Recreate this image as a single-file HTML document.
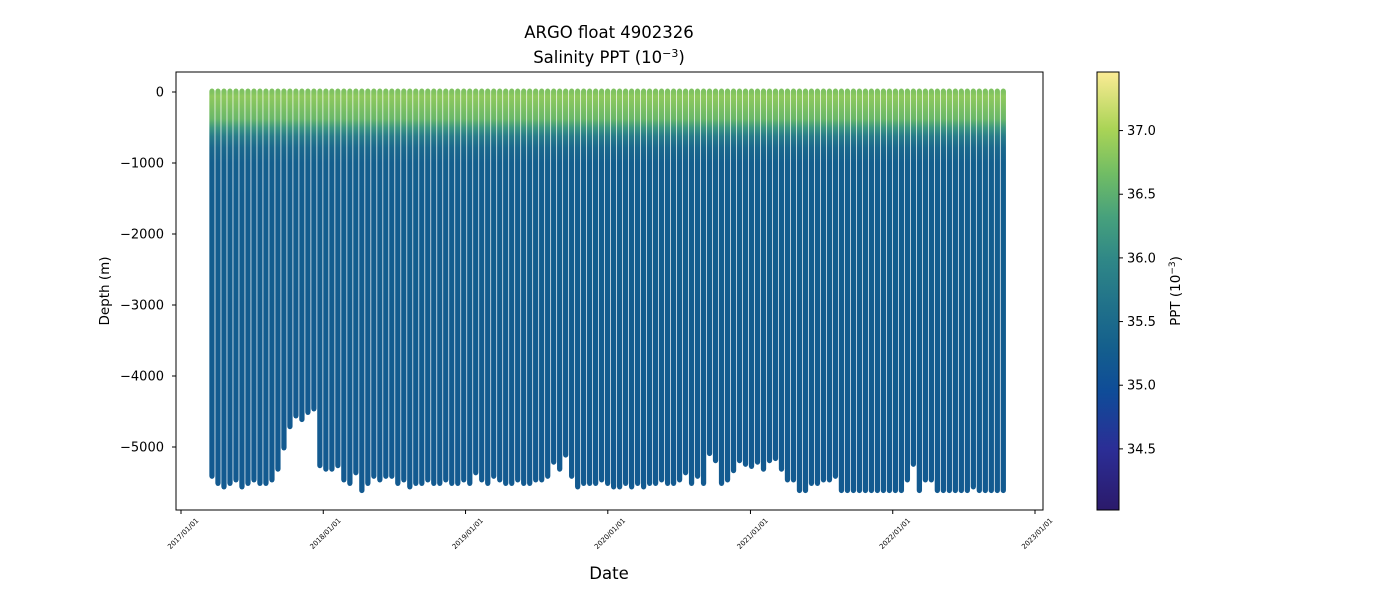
<!DOCTYPE html>
<html><head><meta charset="utf-8"><style>
body{margin:0;background:#fff;}
svg{display:block;font-family:"DejaVu Sans","Liberation Sans",sans-serif;}
</style></head><body>
<svg id="chart" width="1400" height="600">
<defs id="defs"></defs>
<text x="609" y="38" text-anchor="middle" font-size="16.5">ARGO float 4902326</text>
<text x="609" y="63" text-anchor="middle" font-size="16.5">Salinity PPT (10<tspan dy="-6" font-size="11">−3</tspan><tspan dy="6">)</tspan></text>
<g id="profiles"></g>
<rect x="176" y="72" width="867" height="438" fill="none" stroke="#000" stroke-width="1"/>
<g id="yaxis"></g>
<g id="xaxis"></g>
<text x="0" y="0" transform="translate(109,291) rotate(-90)" text-anchor="middle" font-size="13.5">Depth (m)</text>
<text x="609" y="579" text-anchor="middle" font-size="16.5">Date</text>
<rect x="1097" y="72" width="22" height="438" fill="url(#cbgrad)" stroke="#000" stroke-width="1"/>
<g id="cbaxis"></g>
<text x="0" y="0" transform="translate(1180,291) rotate(-90)" text-anchor="middle" font-size="13.5">PPT (10<tspan dy="-5" font-size="9">−3</tspan><tspan dy="5">)</tspan></text>
</svg>
<script>
const bottomDepths = [-5400,-5500,-5550,-5500,-5450,-5550,-5500,-5450,-5500,-5500,-5450,
-5300,-5000,-4700,-4550,-4600,-4500,-4450,-5250,-5300,-5300,-5250,-5450,-5500,-5350,-5600,-5500,-5400,-5450,-5400,-5400,-5500,
-5450,-5550,-5500,-5500,-5450,-5500,-5500,-5450,-5500,-5500,
-5450,-5500,-5350,-5450,-5500,-5400,-5450,-5500,-5500,-5450,
-5500,-5500,-5450,-5450,-5400,-5200,-5300,-5100,-5400,-5550,
-5500,-5500,-5500,-5450,-5500,-5550,-5550,-5500,-5550,-5500,
-5550,-5500,-5500,-5450,-5500,-5500,-5450,-5350,-5500,-5400,
-5500,-5080,-5180,-5500,-5450,-5320,-5180,-5230,-5260,-5200,
-5300,-5180,-5150,-5300,-5450,-5450,-5600,-5600,-5500,-5500,
-5450,-5450,-5400,-5600,-5600,-5600,-5600,-5600,-5600,-5600,
-5600,-5600,-5600,-5600,-5450,-5230,-5600,-5450,-5450,-5600,
-5600,-5600,-5600,-5600,-5600,-5550,-5600,-5600,-5600,-5600,-5600];
const startDay = 79.5;
const cycleDays = 15.38;
const profDepths = [0,-60,-200,-380,-500,-620,-780,-1000,-1500,-2500,-5600];
const profSal =    [36.75,36.85,36.75,36.6,36.2,35.8,35.45,35.3,35.25,35.25,35.2];
const yTicks = [0,-1000,-2000,-3000,-4000,-5000];
const xTickYears = [2017,2018,2019,2020,2021,2022,2023];
const cbTicks = [34.5,35.0,35.5,36.0,36.5,37.0];

const NS="http://www.w3.org/2000/svg";
const y=d=>92+(0-d)*0.071;
const dayX=d=>181+d*(854/2191);
const yearDay=yr=>{let d=0;for(let a=2017;a<yr;a++)d+=(a%4===0)?366:365;return d;};
const cmin=34.02,cmax=37.46;
const cmap=[[0,'#2b1a6b'],[0.14,'#2b2e96'],[0.27,'#0f4c98'],[0.37,'#145f8d'],[0.47,'#21728a'],[0.57,'#2f8787'],[0.67,'#47a17c'],[0.77,'#72bd64'],[0.87,'#aad456'],[1,'#fbeb95']];
function hex(h){return [1,3,5].map(i=>parseInt(h.substr(i,2),16));}
function color(v){let t=(v-cmin)/(cmax-cmin);t=Math.max(0,Math.min(1,t));
 for(let i=1;i<cmap.length;i++){if(t<=cmap[i][0]){const a=cmap[i-1],b=cmap[i];const f=(t-a[0])/(b[0]-a[0]);const ca=hex(a[1]),cb=hex(b[1]);return 'rgb('+ca.map((c,k)=>Math.round(c+(cb[k]-c)*f)).join(',')+')';}}return cmap[cmap.length-1][1];}
function mk(tag,attrs,parent){const e=document.createElementNS(NS,tag);for(const k in attrs)e.setAttribute(k,attrs[k]);parent.appendChild(e);return e;}
const defs=document.getElementById('defs');
const cg=mk('linearGradient',{id:'cbgrad',x1:0,y1:1,x2:0,y2:0},defs);
cmap.forEach(s=>mk('stop',{offset:s[0],'stop-color':s[1]},cg));
const pg=document.getElementById('profiles');
const spacing=cycleDays*(854/2191);
bottomDepths.forEach((bd,i)=>{
 const x=dayX(startDay+i*cycleDays);
 const top=y(0)-3.5,bot=y(bd)+3.5;
 const gid='pg'+i;
 const g=mk('linearGradient',{id:gid,gradientUnits:'userSpaceOnUse',x1:0,y1:top,x2:0,y2:bot},defs);
 profDepths.forEach((d,k)=>{if(d>=bd){mk('stop',{offset:Math.max(0,(y(d)-top)/(bot-top)),'stop-color':color(profSal[k])},g);}});
 mk('stop',{offset:1,'stop-color':color(profSal[profSal.length-1])},g);
 const r=mk('rect',{x:x-(spacing-0.7)/2,y:top,width:spacing-0.7,height:bot-top,rx:3,fill:'url(#'+gid+')'},pg);
 
 
});
const ya=document.getElementById('yaxis');
yTicks.forEach(v=>{
 const l=mk('line',{x1:172,x2:176,y1:y(v),y2:y(v),stroke:'#000'},ya);
 
 
 const t=mk('text',{x:164,y:y(v)+4.5,'text-anchor':'end','font-size':13},ya);
 t.textContent=(v<0?'−':'')+Math.abs(v);
 
 
});
const xa=document.getElementById('xaxis');
xTickYears.forEach(yr=>{
 const x=dayX(yearDay(yr));
 const l=mk('line',{x1:x,x2:x,y1:510,y2:514,stroke:'#000'},xa);
 
 
 const t=mk('text',{x:0,y:0,'text-anchor':'end','font-size':7,transform:'translate('+(x+18)+',521) rotate(-45)'},xa);
 t.textContent=yr+'/01/01';
 
 
});
const ca=document.getElementById('cbaxis');
const cy=v=>510-(v-cmin)/(cmax-cmin)*438;
cbTicks.forEach(v=>{
 const l=mk('line',{x1:1119,x2:1123,y1:cy(v),y2:cy(v),stroke:'#000'},ca);
 
 
 const t=mk('text',{x:1127,y:cy(v)+4.5,'font-size':13},ca);
 t.textContent=v.toFixed(1);
 
 
});
</script>
</body></html>
